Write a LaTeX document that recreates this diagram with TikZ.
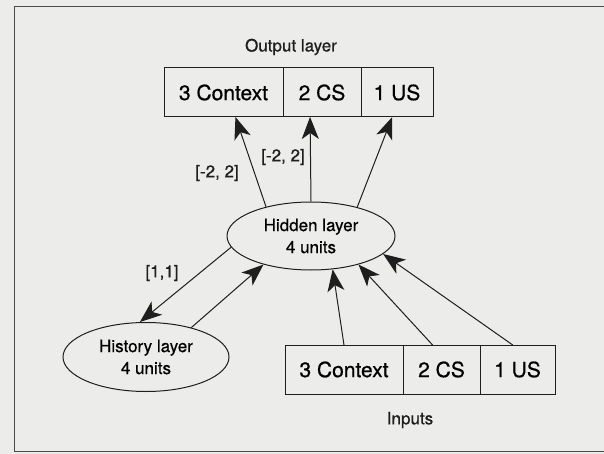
\documentclass[tikz,border=0pt]{standalone}
\usepackage{fontspec}
\setmainfont{TeX Gyre Heros}[FakeBold=0.6]
\usetikzlibrary{positioning, arrows.meta, shapes.geometric}
\definecolor{scangray}{RGB}{236,236,234}
\definecolor{inkgray}{RGB}{30,30,30}

\begin{document}
\begin{tikzpicture}[x=1pt, y=-1pt,
        cell/.style={rectangle, draw=inkgray, line width=1pt, outer sep=0pt, inner sep=0pt, minimum height=49pt, font=\fontsize{21}{24}\selectfont},
        layer/.style={ellipse, draw=inkgray, line width=1pt, inner sep=0pt, minimum width=168pt, minimum height=68pt, align=center, font=\fontsize{17}{22}\selectfont},
        caption/.style={font=\fontsize{17}{20}\selectfont, text=inkgray},
        arrow/.style={draw=inkgray, line width=1pt, -{Stealth[length=22pt, width=17pt, inset=6pt]}}
    ]
        % Background and frame
        \useasboundingbox (0,0) rectangle (604,454);
        \fill[scangray] (0,0) rectangle (604,454);
        \draw[gray!60!black, line width=1pt] (604,7) -- (14,7) -- (14,451) -- (604,451);

        % Output layer
        \node[caption] (outcap) at (291,47) {Output layer};
        \node[cell, minimum width=119pt] (octx) at (223.5,92.5) {3 Context};
        \node[cell, minimum width=78pt, right=0pt of octx] (ocs) {2 CS};
        \node[cell, minimum width=72pt, right=0pt of ocs] (ous) {1 US};

        % Hidden layer
        \node[layer] (hidden) at (311,236) {Hidden layer\\4 units};

        % History layer
        \node[layer, minimum width=166pt, minimum height=69pt] (history) at (146,357) {History layer\\4 units};

        % Inputs
        \node[cell, minimum width=118pt] (ictx) at (344,369.5) {3 Context};
        \node[cell, minimum width=77pt, right=0pt of ictx] (ics) {2 CS};
        \node[cell, minimum width=75pt, right=0pt of ics] (ius) {1 US};
        \node[caption] (incap) at (410,420) {Inputs};

        % Arrows hidden -> output
        \draw[arrow] (hidden.147) -- (octx.-64);
        \draw[arrow] (hidden.90) -- (ocs.-116);
        \draw[arrow] (hidden.32) -- (ous.-101);

        % Arrows hidden <-> history
        \draw[arrow] (hidden.188) -- (history.100);
        \draw[arrow] (history.33) -- (hidden.211);

        % Arrows inputs -> hidden
        \draw[arrow] (ictx.north) -- (hidden.-57);
        \draw[arrow] (ics.110) -- (hidden.-31);
        \draw[arrow] (ius.101) -- (hidden.-14);

        % Weight ranges
        \node[caption] (wctx) at (217,173) {[-2, 2]};
        \node[caption] (wcs) at (283,157) {[-2, 2]};
        \node[caption] (whist) at (162,273) {[1,1]};
    \end{tikzpicture}
\end{document}
